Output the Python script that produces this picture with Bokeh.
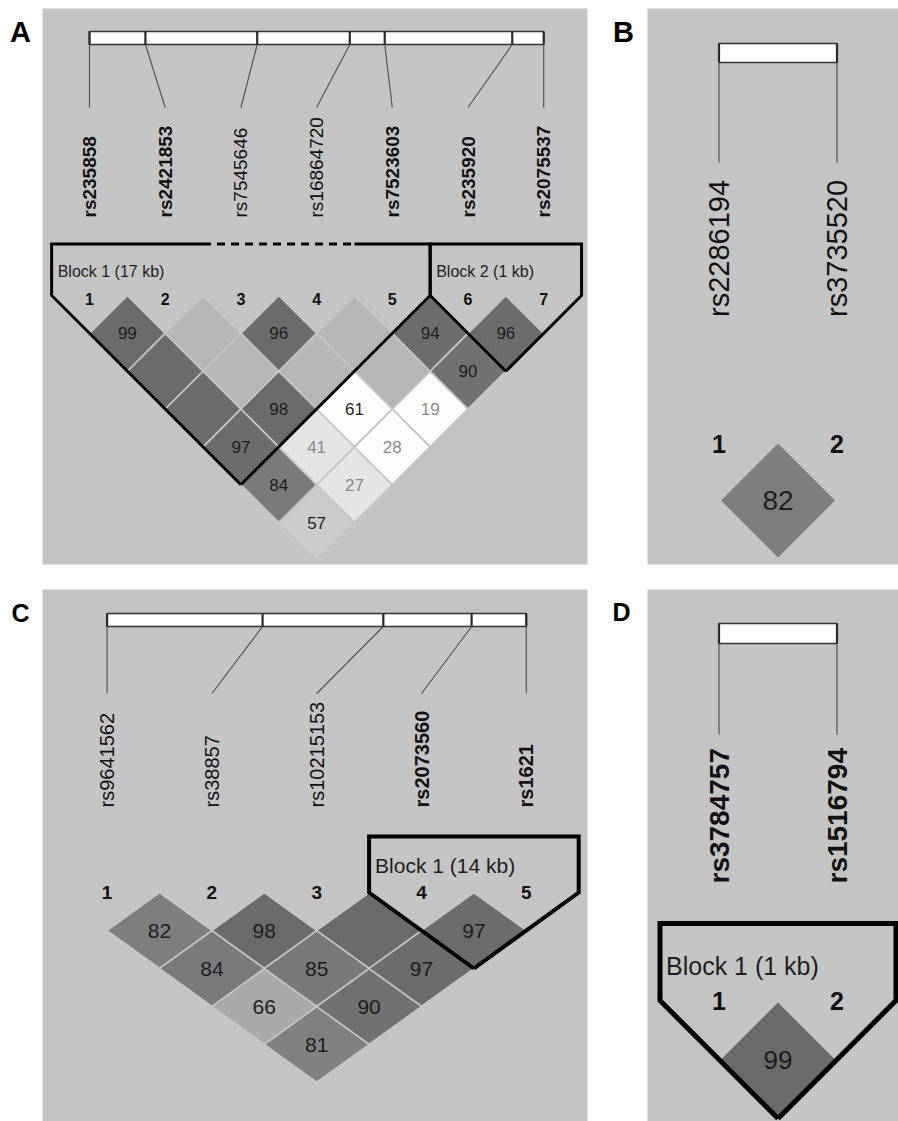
import math
from bokeh.plotting import figure
from bokeh.models import Range1d, ColumnDataSource
from bokeh.core.properties import value
from bokeh.embed import file_html
from bokeh.resources import INLINE

FONT = "Liberation Sans"

# ---------------- data ----------------
# Panel A
A_snps = ["rs235858", "rs2421853", "rs7545646", "rs16864720", "rs7523603", "rs235920", "rs2075537"]
A_bold = [1, 1, 0, 0, 1, 1, 1]
A_pos_kb = [0.0, 3.2, 9.6, 14.9, 16.9, 24.2, 26.0]
# D' (x100) by marker distance (row 1 = adjacent pairs); 100 = D'=1 (no number shown)
A_dprime = [[99, 100, 96, 100, 94, 96],
            [100, 100, 100, 100, 90],
            [100, 98, 61, 19],
            [97, 41, 28],
            [84, 27],
            [57]]
# 1 = LOD >= 2, 0 = LOD < 2
A_strong = [[1, 0, 1, 0, 1, 1],
            [1, 0, 0, 0, 1],
            [1, 1, 0, 0],
            [1, 1, 0],
            [1, 1],
            [1]]
A_blocks = [("Block 1 (17 kb)", 1, 5), ("Block 2 (1 kb)", 6, 7)]
A_dashed_snps = [3, 4]

# Panel B
B_snps = ["rs2286194", "rs3735520"]
B_bold = [0, 0]
B_pos_kb = [0.0, 1.0]
B_dprime = [[82]]
B_strong = [[1]]
B_blocks = []

# Panel C
C_snps = ["rs9641562", "rs38857", "rs10215153", "rs2073560", "rs1621"]
C_bold = [0, 0, 0, 1, 1]
C_pos_kb = [0.0, 39.8, 70.7, 93.3, 107.3]
C_dprime = [[82, 98, 100, 97],
            [84, 85, 97],
            [66, 90],
            [81]]
C_strong = [[1, 1, 1, 1],
            [1, 1, 1],
            [1, 1],
            [1]]
C_blocks = [("Block 1 (14 kb)", 4, 5)]

# Panel D
D_snps = ["rs3784757", "rs1516794"]
D_bold = [1, 1]
D_pos_kb = [0.0, 1.0]
D_dprime = [[99]]
D_strong = [[1]]
D_blocks = [("Block 1 (1 kb)", 1, 2)]

# ---------------- layout (pixel space of the picture) ----------------
LAYOUT = {
    "A": dict(box=(42, 8, 587, 564), letter=(20, 31.5, 29), x0=89.0, dx=75.7, bar=(31, 44),
              conn_end=107, label_y=217, label_fs=19, block_top=243.5, t2=295, hy=37.85,
              num_base=298, num_fs=16, blab_base=271, blab_fs=16, cell_fs=17, block_lw=3, inset=1.3),
    "B": dict(box=(647, 8, 898, 564), letter=(623, 31.5, 29), x0=718.5, dx=118.0, bar=(43, 62),
              conn_end=162, label_y=316.5, label_fs=29, block_top=None, t2=441, hy=59,
              num_base=443, num_fs=25, blab_base=0, blab_fs=25, cell_fs=28, block_lw=5, inset=2.0),
    "C": dict(box=(42, 589, 587, 1121), letter=(20, 612, 25), x0=106.6, dx=104.8, bar=(613, 626),
              conn_end=693, label_y=807, label_fs=20, block_top=836, t2=892, hy=38,
              num_base=891.5, num_fs=19, blab_base=865, blab_fs=21, cell_fs=21, block_lw=4, inset=1.3),
    "D": dict(box=(647, 589, 898, 1121), letter=(621, 611.5, 25), x0=718.5, dx=118.0, bar=(623, 643),
              conn_end=734, label_y=883, label_fs=28, block_top=923, t2=1000, hy=59,
              num_base=1000, num_fs=25, blab_base=965, blab_fs=25, cell_fs=26, block_lw=5, inset=2.0),
}

PANEL_BG = "#c4c4c4"
W, H = 898, 1121


def cell_color(d, strong):
    if strong:
        g = 107.0 if d >= 100 else min(228.0, 107.0 + 0.0878 * (100 - d) ** 1.86)
    else:
        g = 182.0 if d >= 100 else 253.0
    g = int(round(g))
    return "#%02x%02x%02x" % (g, g, g)


p = figure(width=W, height=H, x_range=Range1d(0, W), y_range=Range1d(H, 0),
           x_axis_type=None, y_axis_type=None, toolbar_location=None, output_backend="svg",
           min_border=0, outline_line_color=None, background_fill_color="white",
           border_fill_color="white")
p.grid.visible = False


def draw_panel(name, snps, bold, pos_kb, dprime, strong, blocks, dashed=None):
    L = LAYOUT[name]
    l, t, r, b = L["box"]
    p.quad(left=[l], right=[r], top=[t], bottom=[b], fill_color=PANEL_BG, line_color=None)
    lx, ly, lfs = L["letter"]
    p.text(x=[lx], y=[ly], text=[name], text_font=value(FONT), text_font_style="bold",
           text_font_size=value("%dpx" % lfs), text_align="center", text_baseline="alphabetic",
           text_color="black")

    n = len(snps)
    dx = L["dx"]
    hy = L["hy"]
    xs = [L["x0"] + i * dx for i in range(n)]
    span = pos_kb[-1] - pos_kb[0]
    phys = [xs[0] + (k - pos_kb[0]) / span * (xs[-1] - xs[0]) for k in pos_kb]

    # physical map bar
    bt, bb = L["bar"]
    p.quad(left=[phys[0]], right=[phys[-1]], top=[bt], bottom=[bb], fill_color="white",
           line_color="#333333", line_width=1.5)
    p.segment(x0=phys, y0=[bt] * n, x1=phys, y1=[bb] * n, line_color="#2a2a2a", line_width=2.2)
    # connectors
    p.segment(x0=phys, y0=[bb] * n, x1=xs, y1=[L["conn_end"]] * n, line_color="#555555",
              line_width=1.2)
    # marker names
    src = ColumnDataSource(dict(x=xs, y=[L["label_y"]] * n, text=snps,
                                style=["bold" if v else "normal" for v in bold]))
    p.text(x="x", y="y", text="text", source=src, angle=math.pi / 2, text_align="left",
           text_baseline="middle", text_font=value(FONT), text_font_style="style",
           text_font_size=value("%dpx" % L["label_fs"]), text_color="#111111")
    # marker numbers
    p.text(x=xs, y=[L["num_base"]] * n, text=[str(i + 1) for i in range(n)],
           text_align="center", text_baseline="alphabetic", text_font=value(FONT),
           text_font_style="bold", text_font_size=value("%dpx" % L["num_fs"]),
           text_color="#111111")

    # LD cells
    cxs, cys, cols, pxs, pys, txt, tcol = [], [], [], [], [], [], []
    ins = L["inset"]
    for rr, row in enumerate(dprime):
        dist = rr + 1
        for i, d in enumerate(row):
            a, c = i, i + dist
            cx = (xs[a] + xs[c]) / 2.0
            cy = L["t2"] + hy * dist
            hx = dx / 2.0 - ins
            hh = hy - ins
            pxs.append([cx - hx, cx, cx + hx, cx])
            pys.append([cy, cy - hh, cy, cy + hh])
            cols.append(cell_color(d, strong[rr][i]))
            if d < 100:
                cxs.append(cx)
                cys.append(cy)
                txt.append(str(d))
                tcol.append("#8a8a8a" if d < 50 else "#1e1e1e")
    p.patches(xs=pxs, ys=pys, fill_color=cols, line_color=None)
    p.text(x=cxs, y=cys, text=txt, text_color=tcol, text_align="center", text_baseline="middle",
           text_font=value(FONT), text_font_size=value("%dpx" % L["cell_fs"]))

    # haplotype blocks
    for label, s, e in blocks:
        left = xs[s - 1] - dx / 2.0
        right = xs[e - 1] + dx / 2.0
        top = L["block_top"]
        t2 = L["t2"]
        vx = (xs[s - 1] + xs[e - 1]) / 2.0
        vy = t2 + hy * (e - s + 1)
        lw = L["block_lw"]
        ds = [k for k in (dashed or []) if s <= k <= e]
        if ds:
            d0 = xs[min(ds) - 1] - dx / 2.0
            d1 = xs[max(ds) - 1] + dx / 2.0
            p.line(x=[vx, left, left, d0], y=[vy, t2, top, top], line_color="black",
                   line_width=lw, line_join="miter")
            p.line(x=[d0, d1], y=[top, top], line_color="black", line_width=lw,
                   line_dash="8 6")
            p.line(x=[d1, right, right, vx], y=[top, top, t2, vy], line_color="black",
                   line_width=lw, line_join="miter")
        else:
            p.line(x=[vx, left, left, right, right, vx], y=[vy, t2, top, top, t2, vy],
                   line_color="black", line_width=lw, line_join="miter")
        p.text(x=[left + 6], y=[L["blab_base"]], text=[label], text_align="left",
               text_baseline="alphabetic", text_font=value(FONT),
               text_font_size=value("%dpx" % L["blab_fs"]), text_color="#1e1e1e")


draw_panel("A", A_snps, A_bold, A_pos_kb, A_dprime, A_strong, A_blocks, A_dashed_snps)
draw_panel("B", B_snps, B_bold, B_pos_kb, B_dprime, B_strong, B_blocks)
draw_panel("C", C_snps, C_bold, C_pos_kb, C_dprime, C_strong, C_blocks)
draw_panel("D", D_snps, D_bold, D_pos_kb, D_dprime, D_strong, D_blocks)

open("out.html", "w").write(file_html(p, INLINE))
